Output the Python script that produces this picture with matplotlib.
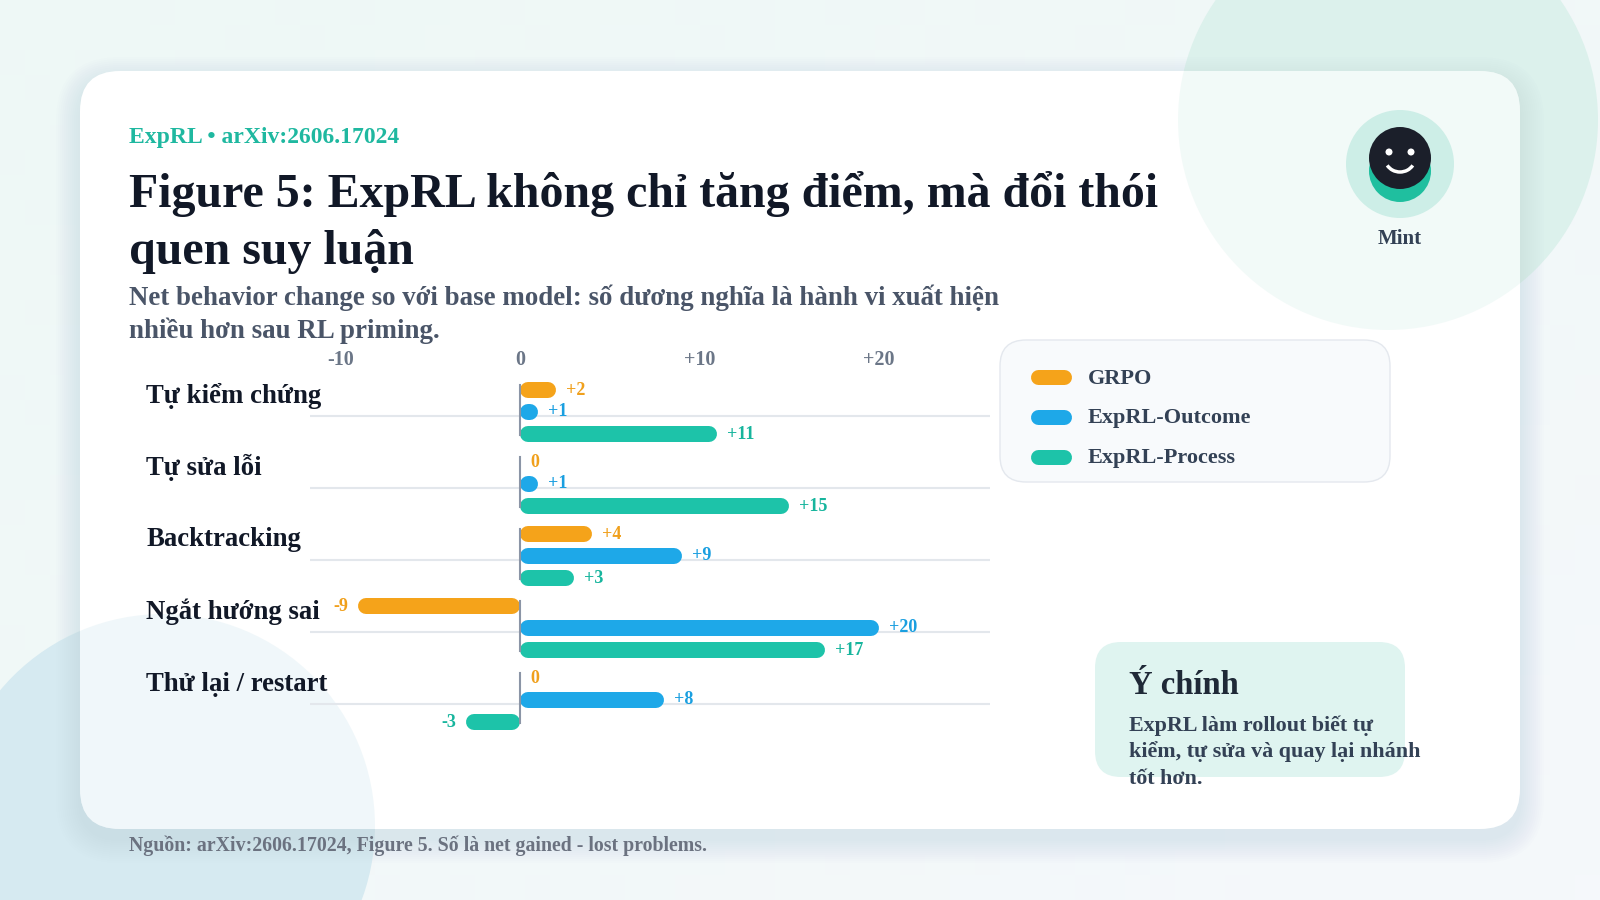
import matplotlib
matplotlib.use("Agg")
import matplotlib.pyplot as plt
import numpy as np
from matplotlib.patches import FancyBboxPatch, Circle, Arc

plt.rcParams['font.family'] = ['Liberation Serif', 'DejaVu Serif']
plt.rcParams['font.weight'] = 'bold'

# data
categories = ["Tự kiểm chứng", "Tự sửa lỗi", "Backtracking", "Ngắt hướng sai", "Thử lại / restart"]
series = ["GRPO", "ExpRL-Outcome", "ExpRL-Process"]
grpo = [2, 0, 4, -9, 0]
outcome = [1, 1, 9, 20, 8]
process = [11, 15, 3, 17, -3]
ticks = [-10, 0, 10, 20]
tick_labels = ["-10", "0", "+10", "+20"]

colors = ["#f5a31a", "#1ea8e8", "#1dc3a9"]
label_colors = ["#f0a01c", "#1a9fe0", "#17b59d"]

W, H = 1600, 900
fig = plt.figure(figsize=(16, 9), dpi=100)

# background layer in pixel coordinates
bg = fig.add_axes([0, 0, 1, 1])
bg.set_xlim(0, W)
bg.set_ylim(H, 0)
bg.axis('off')

c1 = np.array(matplotlib.colors.to_rgb("#eef8f6"))
c2 = np.array(matplotlib.colors.to_rgb("#f5f8fb"))
gx, gy = np.meshgrid(np.linspace(0, 1, 64), np.linspace(0, 1, 36))
t = (gx + gy) / 2
grad = c1 * (1 - t[..., None]) + c2 * t[..., None]
bg.imshow(grad, extent=[0, W, H, 0], aspect='auto', zorder=0)

blobs = [((1388, 120), 210, "#dcf1ec"), ((163, 826), 212, "#d6eaf1")]
for ctr, rad, col in blobs:
    bg.add_patch(Circle(ctr, rad, fc=col, ec="none", zorder=1))

# card shadow + card
for k in range(2, 26, 2):
    bg.add_patch(FancyBboxPatch((80 - k, 71 - k + 10), 1440 + 2 * k, 758 + 2 * k,
                                boxstyle=f"round,pad=0,rounding_size={40 + k}",
                                fc="#5b7083", ec="none", alpha=0.008, zorder=2))
card = FancyBboxPatch((80, 71), 1440, 758, boxstyle="round,pad=0,rounding_size=40",
                      fc="white", ec="none", zorder=3)
bg.add_patch(card)
# blobs faintly showing through the card
for ctr, rad, col in blobs:
    p = Circle(ctr, rad, fc=col, ec="none", alpha=0.35, zorder=3.5)
    bg.add_patch(p)
    p.set_clip_path(card)

# header texts
bg.text(129, 137, "ExpRL • arXiv:2606.17024", color="#1fb8a0", fontsize=17,
        ha='left', va='center', zorder=5)
bg.text(129, 207, "Figure 5: ExpRL không chỉ tăng điểm, mà đổi thói", color="#111827",
        fontsize=34.5, ha='left', va='baseline', zorder=5)
bg.text(129, 264, "quen suy luận", color="#111827", fontsize=34.5, ha='left', va='baseline', zorder=5)
bg.text(129, 305, "Net behavior change so với base model: số dương nghĩa là hành vi xuất hiện",
        color="#4a5568", fontsize=19.4, ha='left', va='baseline', zorder=5)
bg.text(129, 338, "nhiều hơn sau RL priming.", color="#4a5568", fontsize=19.4,
        ha='left', va='baseline', zorder=5)
bg.text(129, 851, "Nguồn: arXiv:2606.17024, Figure 5. Số là net gained - lost problems.",
        color="#6b7280", fontsize=14.3, ha='left', va='baseline', zorder=5)

# avatar
bg.add_patch(Circle((1400, 164), 54, fc="#cdeee7", ec="none", zorder=4))
bg.add_patch(Circle((1400, 171), 31, fc="#1fbf9f", ec="none", zorder=5))
bg.add_patch(Circle((1400, 158), 31, fc="#1b1f2a", ec="none", zorder=6))
bg.add_patch(Circle((1389, 152), 3.5, fc="white", ec="none", zorder=7))
bg.add_patch(Circle((1411, 152), 3.5, fc="white", ec="none", zorder=7))
bg.add_patch(Arc((1400, 158), 30, 28, theta1=30, theta2=150, color="white", lw=2.5, zorder=7))
bg.text(1400, 239, "Mint", color="#334155", fontsize=15, ha='center', va='center', zorder=5)

# legend
bg.add_patch(FancyBboxPatch((1000, 340), 390, 142, boxstyle="round,pad=0,rounding_size=26",
                            fc="#f8fafc", ec="#e4e8ee", lw=1, zorder=4))
for s, name in enumerate(series):
    y = 376.5 + s * 40
    bg.plot([1038, 1064], [y, y], color=colors[s], lw=10.8, solid_capstyle='round', zorder=5)
    bg.text(1088, y + 2, name, color="#334155", fontsize=16, ha='left', va='center', zorder=5)

# key takeaway box
bg.add_patch(FancyBboxPatch((1095, 642), 310, 135, boxstyle="round,pad=0,rounding_size=26",
                            fc="#dff4f0", ec="none", zorder=4))
bg.text(1129, 694, "Ý chính", color="#1f2937", fontsize=23.5, ha='left', va='baseline', zorder=5)
for j, line in enumerate(["ExpRL làm rollout biết tự", "kiểm, tự sửa và quay lại nhánh", "tốt hơn."]):
    bg.text(1129, 731 + j * 26.5, line, color="#334155", fontsize=15.8, ha='left',
            va='baseline', zorder=5)

# chart axes
left_px, right_px, top_px, bot_px = 310, 990, 367, 736
ax = fig.add_axes([left_px / W, 1 - bot_px / H, (right_px - left_px) / W, (bot_px - top_px) / H])
xmin, xmax = -11.7, 26.18
ax.set_xlim(xmin, xmax)
ax.set_ylim(4.5, -0.62)
ax.patch.set_alpha(0)
for sp in ax.spines.values():
    sp.set_visible(False)

px_per_unit = (right_px - left_px) / (xmax - xmin)
bar_px = 16
r = (bar_px / 2) / px_per_unit
off = 10 / px_per_unit
lw = bar_px * 72 / 100
offsets = [-0.30, 0.0, 0.31]

for i, cat in enumerate(categories):
    ax.plot([xmin, xmax], [i + 0.06, i + 0.06], color="#e3e7ec", lw=1.5, zorder=1)
    ax.plot([0, 0], [i - 0.37, i + 0.32], color="#8b95a6", lw=1.5, zorder=4)
    ax.text(-0.241, i - 0.22, cat, transform=ax.get_yaxis_transform(), color="#111827",
            fontsize=19.3, ha='left', va='center')

for s, vals in enumerate([grpo, outcome, process]):
    for i, v in enumerate(vals):
        y = i + offsets[s]
        if v != 0:
            lo, hi = min(v, 0), max(v, 0)
            ax.plot([lo + r, hi - r], [y, y], color=colors[s], lw=lw,
                    solid_capstyle='round', zorder=3)
        txt = f"+{v}" if v > 0 else str(v)
        if v >= 0:
            ax.text(v + off, y, txt, color=label_colors[s], fontsize=13, ha='left', va='center', zorder=5)
        else:
            ax.text(v - off, y, txt, color=label_colors[s], fontsize=13, ha='right', va='center', zorder=5)

ax.set_xticks(ticks, tick_labels)
ax.xaxis.tick_top()
ax.tick_params(axis='x', length=0, pad=-2.3, labelsize=14.5, labelcolor="#6b7687")
ax.set_yticks([])

fig.savefig("out.png", dpi=100)
